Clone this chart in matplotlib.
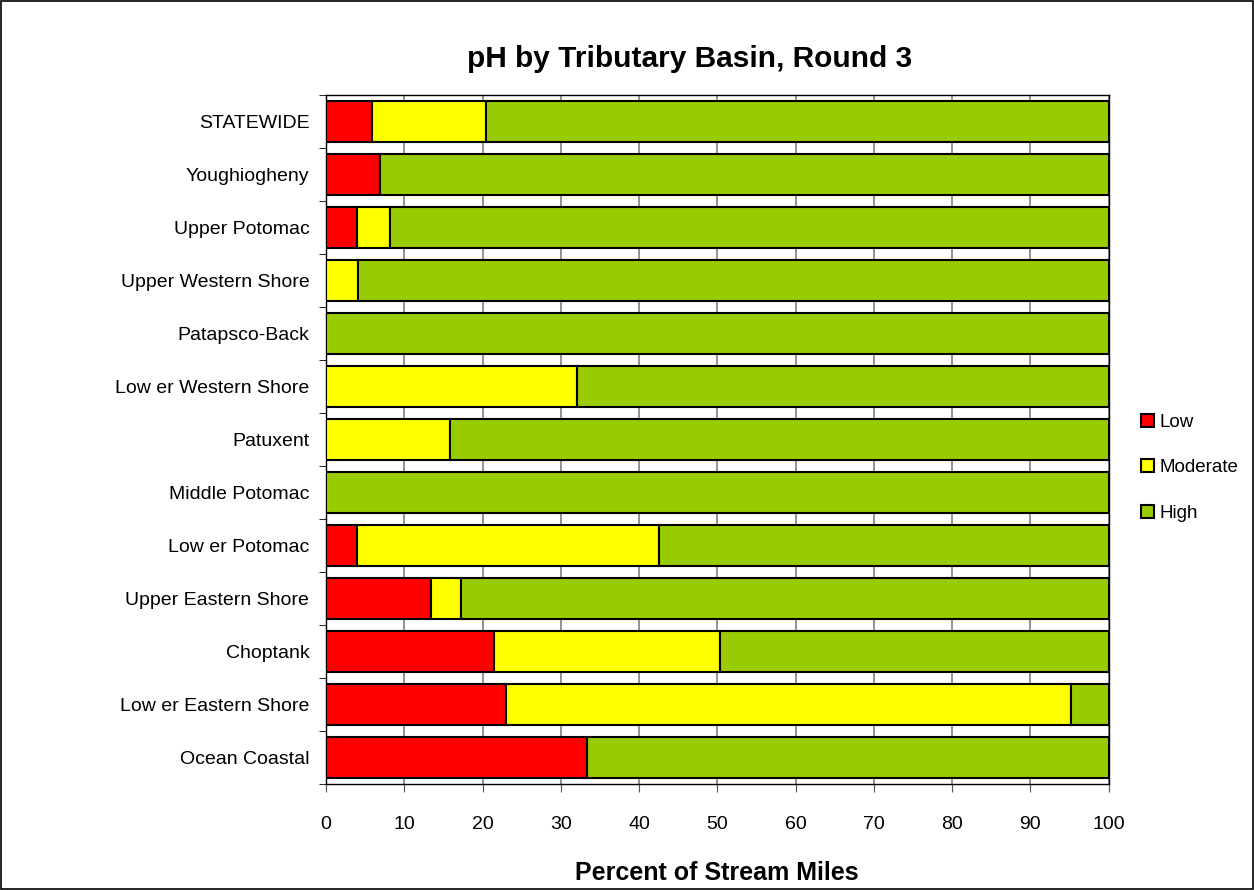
import numpy as np
import matplotlib.pyplot as plt
from matplotlib.patches import Rectangle

plt.rcParams['font.family'] = ['Liberation Sans', 'DejaVu Sans']

basins = ["STATEWIDE", "Youghiogheny", "Upper Potomac", "Upper Western Shore",
          "Patapsco-Back", "Low er Western Shore", "Patuxent", "Middle Potomac",
          "Low er Potomac", "Upper Eastern Shore", "Choptank",
          "Low er Eastern Shore", "Ocean Coastal"]
low = [5.9, 6.9, 3.9, 0, 0, 0, 0, 0, 3.9, 13.4, 21.5, 23.0, 33.3]
moderate = [14.6, 0, 4.3, 4.1, 0, 32.1, 15.9, 0, 38.6, 3.9, 28.8, 72.2, 0]
high = [100 - l - m for l, m in zip(low, moderate)]

colors = ["#FF0000", "#FFFF00", "#99CC00"]
names = ["Low", "Moderate", "High"]

fig = plt.figure(figsize=(12.54, 8.9), dpi=100)
fig.patches.append(Rectangle((0.001, 0.001), 0.998, 0.998, transform=fig.transFigure,
                             fill=False, edgecolor="black", linewidth=1.2))
ax = fig.add_axes([0.26, 0.119, 0.624, 0.774])

y = np.arange(len(basins))
left = np.zeros(len(basins))
for vals, c, n in zip([low, moderate, high], colors, names):
    ax.barh(y, vals, left=left, height=0.78, color=c, edgecolor="black",
            linewidth=1.5, label=n, zorder=3)
    left += np.array(vals)

ax.set_ylim(len(basins) - 0.5, -0.5)
ax.set_xlim(0, 100)
ax.set_xticks(np.arange(0, 101, 10))
ax.tick_params(axis='x', labelsize=14, length=6, direction='out', color='#555555', pad=17)
ax.set_yticks(y)
ax.set_yticklabels(basins, fontsize=14)
ax.tick_params(axis='y', length=0, pad=12)
ax.set_yticks(np.arange(-0.5, len(basins), 1), minor=True)
ax.tick_params(axis='y', which='minor', length=5, direction='out')
ax.grid(axis='x', color='#808080', linewidth=1.2, zorder=0)
for s in ax.spines.values():
    s.set_color('black')
    s.set_linewidth(1.0)

ax.set_title("pH by Tributary Basin, Round 3", fontsize=21.5, fontweight='bold',
             x=0.465, pad=20)
ax.set_xlabel("Percent of Stream Miles", fontsize=18, fontweight='bold', labelpad=20)

ax.legend(loc='center left', bbox_to_anchor=(1.02, 0.459), frameon=False, fontsize=13.5,
          handlelength=0.7, handleheight=0.7, handletextpad=0.3, labelspacing=1.5)

fig.savefig("out.png", dpi=100)
